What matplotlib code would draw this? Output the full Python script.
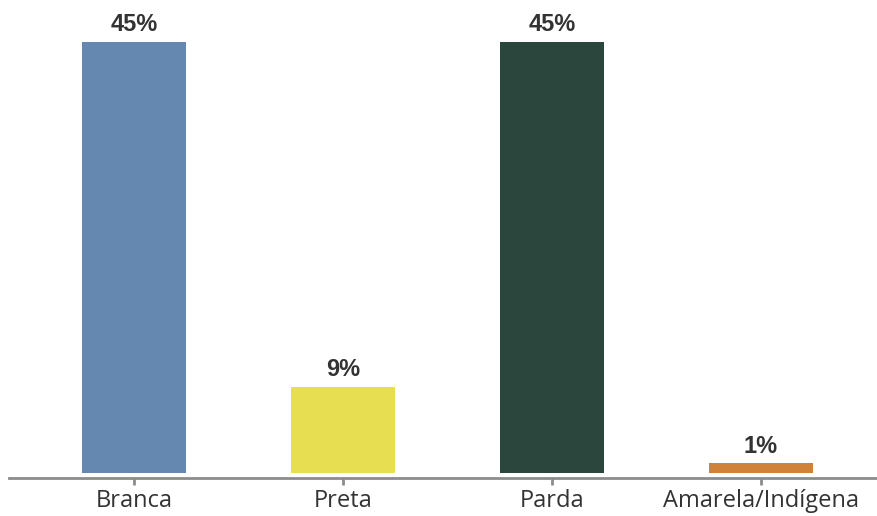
import matplotlib
matplotlib.use("Agg")
import matplotlib.pyplot as plt

categories = ["Branca", "Preta", "Parda", "Amarela/Indígena"]
values = [45, 9, 45, 1]
labels = ["45%", "9%", "45%", "1%"]
colors = ["#6488b0", "#e8de52", "#2b473d", "#d08238"]

fig = plt.figure(figsize=(8.77, 5.16), dpi=100)
ax = fig.add_axes([9/877, (516-477.5)/516, 1 - 9/877, 477.5/516])

x = list(range(len(categories)))
bars = ax.bar(x, values, width=104/209, color=colors)

for xi, v, lab in zip(x, values, labels):
    ax.annotate(lab, (xi, v), xytext=(0, 4), textcoords="offset points",
                ha="center", va="bottom", fontsize=17, fontweight="bold",
                color="#333333", family="Liberation Sans")

ax.set_xlim(-125/209, (877-134)/209)
ax.set_ylim(-4.5/9.58, 45 + 42/9.58)
ax.set_xticks(x)
ax.set_xticklabels(categories, fontsize=17, color="#333333", family="Open Sans")
ax.tick_params(axis="x", length=5, width=2, color="#8c8c8c", pad=3)
ax.set_yticks([])
for s in ["top", "right", "left"]:
    ax.spines[s].set_visible(False)
ax.spines["bottom"].set_color("#8c8c8c")
ax.spines["bottom"].set_linewidth(2)

fig.savefig("out.png", dpi=100)
